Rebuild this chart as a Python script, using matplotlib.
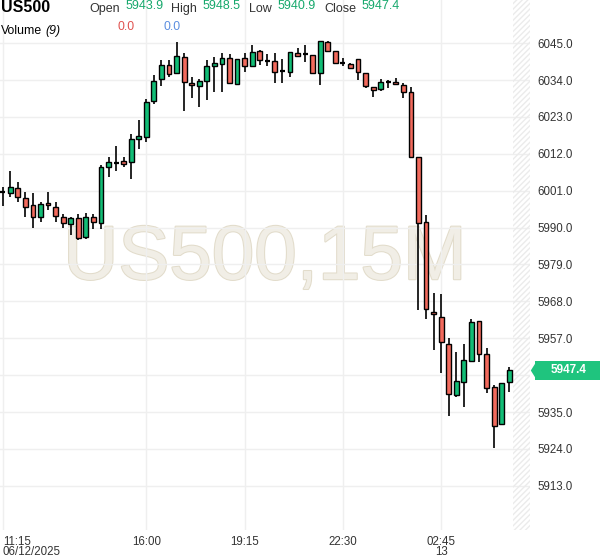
import matplotlib
matplotlib.use('Agg')
import matplotlib.pyplot as plt
import matplotlib.patheffects as pe
from matplotlib.patches import Rectangle, Polygon
import numpy as np

plt.rcParams['font.family'] = ['Liberation Sans', 'DejaVu Sans']
plt.rcParams['hatch.linewidth'] = 1.0

# 15 minute candles, US500
opens = [6000.7, 6000.2, 6001.7, 5998.7, 5996.7, 5993.2, 5997.4, 5996.1, 5993.1, 5991.0,
         5992.8, 5987.1, 5993.1, 5991.3, 6008.2, 6009.3, 6009.9, 6009.6, 6016.3, 6017.1,
         6027.7, 6034.2, 6038.5, 6036.0, 6040.8, 6033.1, 6032.3, 6033.6, 6038.2, 6038.7,
         6040.5, 6032.7, 6040.5, 6038.1, 6042.7, 6039.8, 6039.8, 6036.7, 6036.3, 6042.0,
         6041.7, 6041.4, 6036.0, 6045.2, 6042.6, 6039.0, 6038.8, 6040.2, 6036.0, 6031.8,
         6031.2, 6033.3, 6033.3, 6032.5, 6030.5, 6011.1, 5991.8, 5964.7, 5963.4, 5955.2,
         5940.1, 5944.1, 5950.3, 5962.2, 5952.2, 5942.4, 5931.4, 5943.9]
highs = [6002.2, 6007.0, 6003.7, 6000.7, 6000.2, 5997.5, 6000.7, 5997.7, 5994.1, 5993.2,
         5994.1, 5994.4, 5994.1, 6008.7, 6011.0, 6014.2, 6011.0, 6017.9, 6022.1, 6028.2,
         6035.5, 6040.0, 6040.0, 6045.2, 6042.0, 6035.0, 6034.4, 6040.0, 6040.8, 6042.0,
         6041.7, 6040.2, 6042.0, 6044.4, 6042.9, 6041.8, 6042.0, 6040.2, 6042.3, 6043.4,
         6044.4, 6041.4, 6045.5, 6045.6, 6042.7, 6040.5, 6039.1, 6040.2, 6036.0, 6031.8,
         6034.2, 6034.0, 6034.5, 6033.2, 6031.8, 6011.1, 5993.8, 5970.4, 5970.1, 5957.0,
         5952.8, 5955.2, 5962.8, 5962.2, 5954.0, 5943.1, 5943.6, 5948.5]
lows = [5996.5, 5999.0, 5997.7, 5993.1, 5989.8, 5991.6, 5995.2, 5991.7, 5989.8, 5987.8,
        5986.3, 5986.6, 5989.5, 5989.5, 6005.0, 6007.0, 6008.2, 6004.6, 6013.3, 6015.6,
        6026.8, 6032.3, 6034.8, 6036.0, 6024.8, 6028.5, 6026.0, 6028.0, 6030.5, 6030.3,
        6032.7, 6032.5, 6036.5, 6038.0, 6038.5, 6038.2, 6033.0, 6033.0, 6034.8, 6040.8,
        6039.5, 6035.7, 6032.5, 6042.6, 6039.0, 6038.2, 6037.4, 6034.0, 6031.5, 6028.8,
        6030.8, 6031.5, 6032.7, 6028.5, 6011.0, 5965.4, 5962.7, 5953.5, 5946.6, 5933.9,
        5939.6, 5936.6, 5950.0, 5950.0, 5940.6, 5924.2, 5931.4, 5940.9]
closes = [6000.7, 6002.0, 5999.0, 5996.2, 5993.1, 5996.9, 5996.6, 5993.5, 5991.3, 5992.8,
          5986.8, 5993.1, 5991.6, 6008.2, 6009.5, 6009.3, 6009.0, 6016.3, 6017.3, 6027.4,
          6033.8, 6038.5, 6035.8, 6041.2, 6033.3, 6032.4, 6033.6, 6038.2, 6039.1, 6040.6,
          6033.0, 6040.2, 6038.3, 6042.3, 6039.9, 6039.8, 6036.5, 6036.7, 6042.3, 6041.2,
          6041.7, 6036.0, 6045.5, 6042.7, 6039.2, 6039.0, 6037.5, 6036.3, 6032.2, 6031.0,
          6033.3, 6033.3, 6032.7, 6030.5, 6011.0, 5991.3, 5965.6, 5964.2, 5955.8, 5940.3,
          5944.3, 5950.5, 5961.8, 5952.2, 5942.1, 5930.9, 5943.6, 5947.4]

time_pos = [0, 19, 32, 45, 58]
time_labels = ['11:15\n06/12/2025', '16:00', '19:15', '22:30', '02:45\n13']
price_ticks = np.arange(5913, 6046, 11)

green = '#12bd76'
red = '#f26a5d'
txt = '#333333'

o = np.array(opens); h = np.array(highs); l = np.array(lows); c = np.array(closes)
x = np.arange(len(o))

fig = plt.figure(figsize=(6, 5.58), dpi=100)
ax = fig.add_axes([0, 1 - 530 / 558, 530 / 600, 530 / 558])

ax.set_xlim(-0.36, 69.75)
ax.set_ylim(5899.85, 6057.85)

# watermark
ax.text(0.5, 0.51, 'US500,15M', transform=ax.transAxes, ha='center', va='center',
        fontsize=55, color='#f1eee6', zorder=0.5,
        path_effects=[pe.Stroke(linewidth=1.5, foreground='#e2dccb'), pe.Normal()])

# grid
for p in price_ticks:
    ax.axhline(p, color='#efefef', lw=1, zorder=1)
for t in time_pos:
    ax.axvline(t, color='#efefef', lw=1, zorder=1)

# hatched area after the last candle
ax.axvspan(x[-1] + 0.5, 69.75, facecolor='none', edgecolor='#ebebeb',
           hatch='//////', lw=0, zorder=1)

# candles
up = c > o
dn = c < o
flat = c == o
ax.vlines(x, l, h, color='black', lw=1.2, zorder=2)
w = 0.64
ax.bar(x[up], c[up] - o[up], bottom=o[up], width=w, color=green,
       edgecolor='black', linewidth=1.0, zorder=3)
ax.bar(x[dn], o[dn] - c[dn], bottom=c[dn], width=w, color=red,
       edgecolor='black', linewidth=1.0, zorder=3)
ax.hlines(o[flat], x[flat] - w / 2, x[flat] + w / 2, color='black', lw=1.6, zorder=3)

for s in ax.spines.values():
    s.set_visible(False)

ax.yaxis.tick_right()
ax.set_yticks(price_ticks)
ax.set_yticklabels(['' if p == 5946 else f'{p:.1f}' for p in price_ticks])
ax.tick_params(axis='y', length=0, pad=5.5, labelsize=8.3, labelcolor=txt)
ax.set_xticks(time_pos)
ax.set_xticklabels(time_labels)
ax.tick_params(axis='x', length=0, pad=4, labelsize=8.3, labelcolor=txt)
for lab in ax.get_xticklabels():
    lab.set_linespacing(0.85)
ax.get_xticklabels()[0].set_ha('left')

# last price tag
last = c[-1]
ytr = ax.get_yaxis_transform()
ax.add_patch(Rectangle((1.009, last - 2.95), 0.1245, 5.9, transform=ytr,
                       facecolor='#1fc47e', edgecolor='none', clip_on=False, zorder=5))
ax.add_patch(Polygon([[1.0015, last], [1.0095, last - 2.0], [1.0095, last + 2.0]],
                     closed=True, transform=ytr, facecolor='#1fc47e',
                     edgecolor='none', clip_on=False, zorder=5))
ax.text(1.072, last, f'{last:.1f}', transform=ytr, ha='center', va='center',
        color='white', fontsize=8.5, weight='bold', zorder=6, clip_on=False)

# header
def ft(px, py, s, **kw):
    fig.text(px / 600, 1 - py / 558, s, va='center', **kw)

ft(1, 8, 'US500', fontsize=11.5, weight='bold', color='black')
hdr = [('Open', 89, opens[-1], 126), ('High', 171, highs[-1], 203),
       ('Low', 249, lows[-1], 278), ('Close', 324, closes[-1], 362)]
for name, xl, val, xv in hdr:
    ft(xl, 9, name, fontsize=9, color=txt)
    ft(xv, 6, f'{val:.1f}', fontsize=9, color='#16a86c')
ft(1, 31, 'Volume', fontsize=8.8, color='black')
ft(45, 31, '(9)', fontsize=8.8, color='black', style='italic')
ft(118, 27, '0.0', fontsize=8.8, color='#e0524f')
ft(163, 27, '0.0', fontsize=8.8, color='#5b8ee0')

fig.savefig('out.png', dpi=100)
